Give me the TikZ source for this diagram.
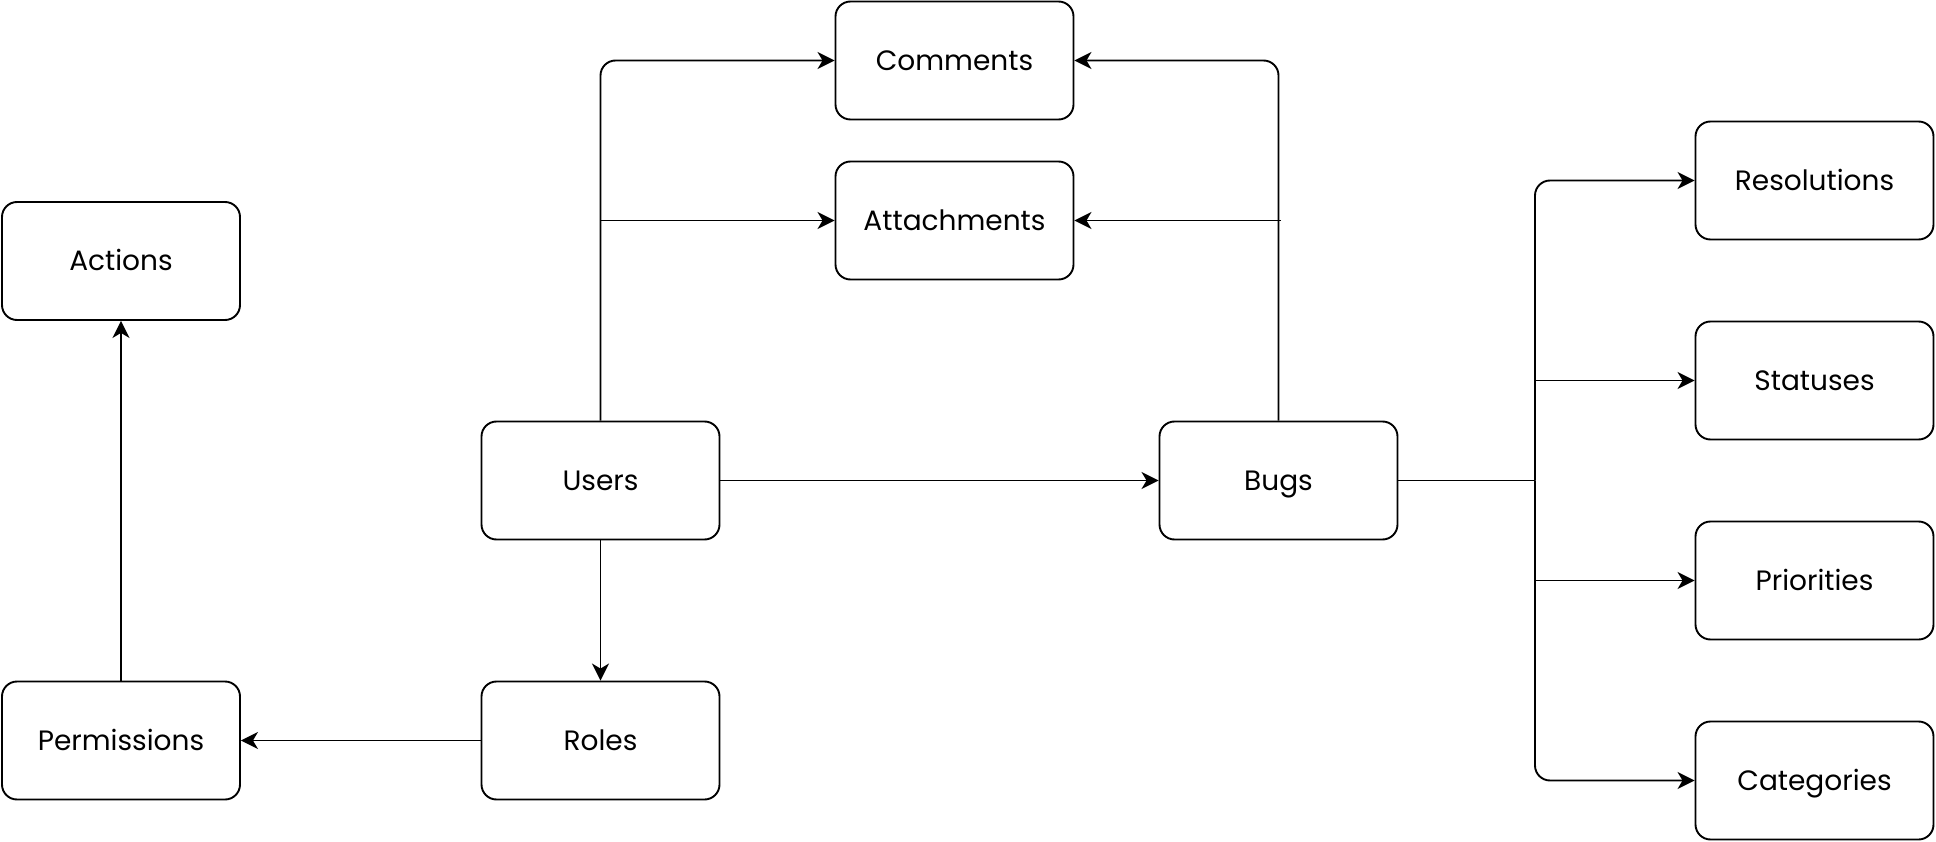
\documentclass[tikz,border=0pt]{standalone}
\usepackage{fontspec}
\setmainfont{Poppins}
\usetikzlibrary{arrows.meta}
\tikzset{
  box/.style={draw, line width=1.9pt, rounded corners=15pt, minimum width=238pt, minimum height=118pt, inner sep=0pt, font=\fontsize{28}{32}\selectfont, text height=20pt, text depth=0pt},
  arr/.style={line width=1.9pt, -{Stealth[length=17pt, width=17pt, inset=5pt]}},
  ln/.style={line width=1.9pt}
}
\begin{document}
\begin{tikzpicture}[x=1pt, y=-1pt]
\useasboundingbox (0,0) rectangle (1936,842);
\node[box] (Actions) at (121,261) {Actions};
\node[box] (Comments) at (954.5,60.5) {Comments};
\node[box] (Attachments) at (954.5,220.5) {Attachments};
\node[box] (Resolutions) at (1814.5,180.5) {Resolutions};
\node[box] (Statuses) at (1814.5,380.5) {Statuses};
\node[box] (Priorities) at (1814.5,580.5) {Priorities};
\node[box] (Categories) at (1814.5,780.5) {Categories};
\node[box] (Users) at (600.5,480.5) {Users};
\node[box] (Bugs) at (1278.5,480.5) {Bugs};
\node[box] (Permissions) at (121,740.5) {Permissions};
\node[box] (Roles) at (600.5,740.5) {Roles};
\coordinate (trunk) at (1535,480.5);
\coordinate (bugtap) at (1281,220.5);

\draw[arr, rounded corners=15pt] (Users.north) |- (Comments.west);
\draw[arr] (Users.north |- Attachments.west) -- (Attachments.west);
\draw[arr] (Users.east) -- (Bugs.west);
\draw[arr] (Users.south) -- (Roles.north);
\draw[arr] (Roles.west) -- (Permissions.east);
\draw[arr] (Permissions.north) -- (Actions.south);
\draw[arr, rounded corners=15pt] (Bugs.north) |- (Comments.east);
\draw[arr] (bugtap) -- (Attachments.east);
\draw[ln] (Bugs.east) -- (trunk);
\draw[arr, rounded corners=15pt] (trunk) |- (Resolutions.west);
\draw[arr] (trunk |- Statuses.west) -- (Statuses.west);
\draw[arr] (trunk |- Priorities.west) -- (Priorities.west);
\draw[arr, rounded corners=15pt] (trunk) |- (Categories.west);
\end{tikzpicture}
\end{document}
